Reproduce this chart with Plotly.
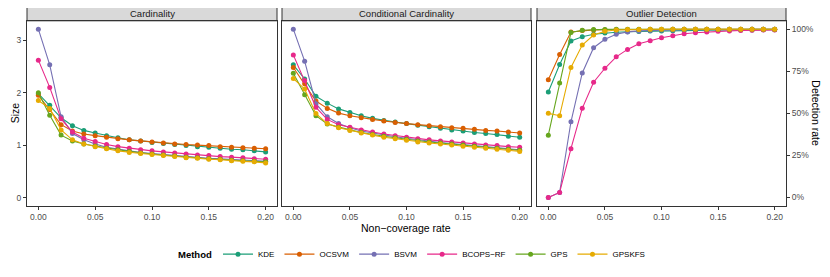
import plotly.graph_objects as go

# ---------------- data ----------------
rates = [0.00, 0.01, 0.02, 0.03, 0.04, 0.05, 0.06, 0.07, 0.08, 0.09, 0.10,
         0.11, 0.12, 0.13, 0.14, 0.15, 0.16, 0.17, 0.18, 0.19, 0.20]
methods = ["KDE", "OCSVM", "BSVM", "BCOPS−RF", "GPS", "GPSKFS"]
panel_titles = ["Cardinality", "Conditional Cardinality", "Outlier Detection"]

card_kde = [1.98, 1.76, 1.52, 1.37, 1.28, 1.23, 1.18, 1.14, 1.10, 1.08, 1.05, 1.03, 1.01, 0.99, 0.97, 0.96, 0.94, 0.92, 0.91, 0.89, 0.87]
card_ocsvm = [1.95, 1.68, 1.39, 1.27, 1.21, 1.18, 1.15, 1.12, 1.10, 1.08, 1.06, 1.04, 1.02, 1.01, 1.00, 0.99, 0.97, 0.96, 0.95, 0.94, 0.93]
card_bsvm = [3.21, 2.53, 1.54, 1.22, 1.10, 1.02, 0.96, 0.92, 0.89, 0.86, 0.84, 0.82, 0.80, 0.78, 0.77, 0.75, 0.74, 0.73, 0.72, 0.70, 0.69]
card_bcops = [2.62, 2.10, 1.50, 1.25, 1.13, 1.07, 1.01, 0.97, 0.94, 0.91, 0.89, 0.87, 0.85, 0.83, 0.81, 0.80, 0.78, 0.77, 0.76, 0.74, 0.73]
card_gps = [2.00, 1.57, 1.19, 1.08, 1.02, 0.98, 0.94, 0.91, 0.88, 0.85, 0.83, 0.81, 0.79, 0.77, 0.76, 0.74, 0.73, 0.71, 0.70, 0.69, 0.68]
card_gpskfs = [1.85, 1.70, 1.29, 1.10, 1.02, 0.97, 0.93, 0.89, 0.86, 0.84, 0.82, 0.80, 0.78, 0.76, 0.75, 0.73, 0.72, 0.70, 0.69, 0.68, 0.66]

cond_kde = [2.53, 2.26, 1.93, 1.80, 1.69, 1.62, 1.56, 1.51, 1.47, 1.44, 1.41, 1.38, 1.35, 1.32, 1.29, 1.27, 1.24, 1.22, 1.20, 1.17, 1.15]
cond_ocsvm = [2.48, 2.17, 1.84, 1.70, 1.61, 1.56, 1.52, 1.49, 1.46, 1.43, 1.41, 1.39, 1.37, 1.35, 1.33, 1.32, 1.30, 1.28, 1.27, 1.25, 1.23]
cond_bsvm = [3.21, 2.60, 1.79, 1.54, 1.41, 1.33, 1.27, 1.23, 1.19, 1.16, 1.13, 1.10, 1.07, 1.05, 1.03, 1.01, 0.99, 0.97, 0.95, 0.93, 0.91]
cond_bcops = [2.72, 2.23, 1.72, 1.49, 1.39, 1.34, 1.29, 1.25, 1.21, 1.18, 1.15, 1.12, 1.10, 1.08, 1.06, 1.04, 1.02, 1.00, 0.99, 0.97, 0.96]
cond_gps = [2.37, 1.96, 1.56, 1.40, 1.34, 1.29, 1.24, 1.20, 1.17, 1.14, 1.11, 1.08, 1.06, 1.04, 1.02, 1.00, 0.98, 0.96, 0.94, 0.92, 0.90]
cond_gpskfs = [2.27, 2.07, 1.60, 1.41, 1.33, 1.28, 1.23, 1.19, 1.15, 1.12, 1.09, 1.06, 1.04, 1.02, 1.00, 0.98, 0.96, 0.94, 0.92, 0.90, 0.88]

det_kde = [0.627, 0.79, 0.93, 0.955, 0.97, 0.978, 0.982, 0.985, 0.987, 0.989, 0.990, 0.991, 0.992, 0.993, 0.994, 0.995, 0.995, 0.996, 0.996, 0.997, 0.997]
det_ocsvm = [0.70, 0.85, 0.984, 0.992, 0.996, 0.997, 0.998, 0.998, 0.999, 0.999, 0.999, 1.0, 1.0, 1.0, 1.0, 1.0, 1.0, 1.0, 1.0, 1.0, 1.0]
det_bsvm = [0.0, 0.03, 0.45, 0.74, 0.89, 0.94, 0.97, 0.984, 0.99, 0.993, 0.995, 0.996, 0.997, 0.998, 0.998, 0.999, 0.999, 0.999, 1.0, 1.0, 1.0]
det_bcops = [0.0, 0.03, 0.29, 0.53, 0.685, 0.768, 0.836, 0.88, 0.914, 0.932, 0.949, 0.961, 0.973, 0.979, 0.984, 0.988, 0.990, 0.992, 0.994, 0.995, 0.996]
det_gps = [0.37, 0.68, 0.98, 0.994, 0.998, 0.999, 1.0, 1.0, 1.0, 1.0, 1.0, 1.0, 1.0, 1.0, 1.0, 1.0, 1.0, 1.0, 1.0, 1.0, 1.0]
det_gpskfs = [0.50, 0.486, 0.773, 0.906, 0.965, 0.988, 0.995, 0.998, 0.999, 1.0, 1.0, 1.0, 1.0, 1.0, 1.0, 1.0, 1.0, 1.0, 1.0, 1.0, 1.0]

x_ticks = [0.00, 0.05, 0.10, 0.15, 0.20]
x_ticklabels = ["0.00", "0.05", "0.10", "0.15", "0.20"]
size_ticks = [0, 1, 2, 3]
det_ticks = [0, 0.25, 0.5, 0.75, 1.0]
det_ticklabels = ["0%", "25%", "50%", "75%", "100%"]

colors = ["#1B9E77", "#D95F02", "#7570B3", "#E7298A", "#66A61E", "#E6AB02"]

panels = [
    [card_kde, card_ocsvm, card_bsvm, card_bcops, card_gps, card_gpskfs],
    [cond_kde, cond_ocsvm, cond_bsvm, cond_bcops, cond_gps, cond_gpskfs],
    [det_kde, det_ocsvm, det_bsvm, det_bcops, det_gps, det_gpskfs],
]

# ---------------- layout geometry ----------------
# the page body has an 8px margin; size the figure so it fits the 830x277 window
OFF = 8
W, H = 830 - 2 * OFF, 277 - 2 * OFF
FONT = "Liberation Sans, Arial, Helvetica, sans-serif"
BORDER = "#333333"
TICKCOL = "#4D4D4D"

px_x = [(27, 277), (282, 531), (537, 786)]
top_px, bot_px = 21, 209
strip_top_px = 5.5


def fx(p):
    return (p - OFF) / W


def fy(p):
    return 1 - (p - OFF) / H


fig = go.Figure()

for pi, series in enumerate(panels):
    xa = "x" if pi == 0 else f"x{pi+1}"
    ya = "y" if pi == 0 else f"y{pi+1}"
    for mi, vals in enumerate(series):
        fig.add_trace(go.Scatter(
            x=rates, y=vals, mode="lines+markers",
            name=methods[mi], legendgroup=methods[mi],
            showlegend=(pi == 0),
            line=dict(color=colors[mi], width=1.1),
            marker=dict(color=colors[mi], size=5),
            xaxis=xa, yaxis=ya,
        ))

common_x = dict(
    range=[-0.01, 0.21], tickvals=x_ticks, ticktext=x_ticklabels,
    ticks="outside", ticklen=3, tickwidth=1, tickcolor=BORDER,
    showline=True, linecolor=BORDER, linewidth=1, mirror=True,
    showgrid=False, zeroline=False,
    tickfont=dict(family=FONT, size=8.5, color=TICKCOL),
)

layout = dict(
    width=W, height=H,
    margin=dict(l=0, r=0, t=0, b=0),
    paper_bgcolor="white", plot_bgcolor="white",
    font=dict(family=FONT),
    showlegend=True,
    legend=dict(
        orientation="h", x=fx(218), xanchor="left", y=fy(258), yanchor="middle",
        font=dict(size=8, color="black"),
        itemwidth=30, tracegroupgap=0,
        bgcolor="rgba(0,0,0,0)",
    ),
)

for pi in range(3):
    key = "xaxis" if pi == 0 else f"xaxis{pi+1}"
    d = dict(common_x)
    d["domain"] = [fx(px_x[pi][0]), fx(px_x[pi][1])]
    d["anchor"] = "y" if pi == 0 else f"y{pi+1}"
    layout[key] = d

layout["yaxis"] = dict(
    domain=[fy(bot_px), fy(top_px)], anchor="x",
    range=[-0.16, 3.37], tickvals=size_ticks,
    ticks="outside", ticklen=3, tickwidth=1, tickcolor=BORDER,
    showline=True, linecolor=BORDER, linewidth=1, mirror=True,
    showgrid=False, zeroline=False,
    tickfont=dict(family=FONT, size=8.5, color=TICKCOL),
)
layout["yaxis2"] = dict(
    domain=[fy(bot_px), fy(top_px)], anchor="x2", matches="y",
    range=[-0.16, 3.37], showticklabels=False, ticks="",
    showline=True, linecolor=BORDER, linewidth=1, mirror=True,
    showgrid=False, zeroline=False,
)
layout["yaxis3"] = dict(
    domain=[fy(bot_px), fy(top_px)], anchor="x3", side="right",
    range=[-0.05, 1.05], tickvals=det_ticks, ticktext=det_ticklabels,
    ticks="outside", ticklen=3, tickwidth=1, tickcolor=BORDER,
    showline=True, linecolor=BORDER, linewidth=1, mirror=True,
    showgrid=False, zeroline=False,
    tickfont=dict(family=FONT, size=8.5, color=TICKCOL),
)

fig.update_layout(**layout)

# strips
for pi in range(3):
    fig.add_shape(type="rect", xref="paper", yref="paper",
                  x0=fx(px_x[pi][0]), x1=fx(px_x[pi][1]),
                  y0=fy(top_px), y1=fy(strip_top_px),
                  fillcolor="#D9D9D9", line=dict(color=BORDER, width=1), layer="below")
    fig.add_annotation(xref="paper", yref="paper",
                       x=fx((px_x[pi][0] + px_x[pi][1]) / 2), y=fy((top_px + strip_top_px) / 2),
                       text=panel_titles[pi], showarrow=False,
                       xanchor="center", yanchor="middle",
                       font=dict(family=FONT, size=9.5, color="#1A1A1A"))

# legend title
fig.add_annotation(xref="paper", yref="paper", x=fx(214), y=fy(258),
                   text="<b>Method</b>", showarrow=False,
                   xanchor="right", yanchor="middle",
                   font=dict(family=FONT, size=9.5, color="black"))

# axis titles
fig.add_annotation(xref="paper", yref="paper", x=fx(406), y=fy(231),
                   text="Non−coverage rate", showarrow=False,
                   xanchor="center", yanchor="middle",
                   font=dict(family=FONT, size=10.5, color="black"))
fig.add_annotation(xref="paper", yref="paper", x=fx(8), y=fy(115),
                   text="Size", showarrow=False, textangle=-90, borderpad=0,
                   xanchor="left", yanchor="middle",
                   font=dict(family=FONT, size=10.5, color="black"))
fig.add_annotation(xref="paper", yref="paper", x=fx(816), y=fy(115),
                   text="Detection rate", showarrow=False, textangle=90,
                   xanchor="center", yanchor="middle",
                   font=dict(family=FONT, size=10.5, color="black"))

fig.write_html("out.html")
